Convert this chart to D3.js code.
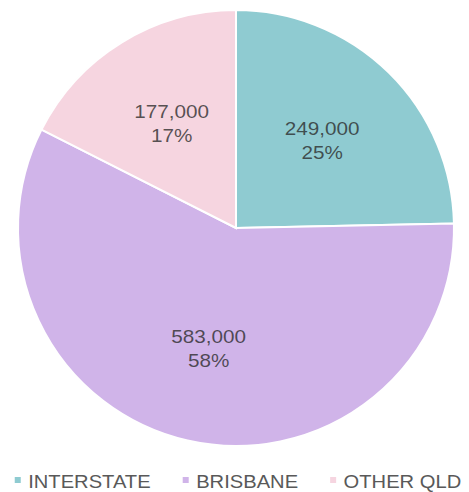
<!DOCTYPE html>
<html>
<head>
<meta charset="utf-8">
<script src="https://cdn.jsdelivr.net/npm/d3@7"></script>
<style>
  html, body { margin: 0; padding: 0; background: #fff; }
  svg { display: block; font-family: "Liberation Sans", Arial, sans-serif; }
</style>
</head>
<body>
<svg id="pie" width="469" height="492"></svg>
<script>
// pie of where people live
const categories = ['INTERSTATE', 'BRISBANE', 'OTHER QLD'];
const values = [249000, 583000, 177000];
const percentLabels = ['25%', '58%', '17%'];
const colors = ['#8fcbd1', '#d0b4e9', '#f6d5e0'];

function drawPie() {
  const svg = d3.select('#pie');
  const cx = 236, cy = 228, radius = 218;

  const data = categories.map((c, i) => ({ name: c, value: values[i], pct: percentLabels[i], color: colors[i] }));

  const pie = d3.pie().sort(null).value(d => d.value);
  const arc = d3.arc().innerRadius(0).outerRadius(radius);
  const labelArc = d3.arc().innerRadius(0).outerRadius(246);

  const g = svg.append('g').attr('transform', `translate(${cx},${cy})`);

  g.selectAll('path.slice')
    .data(pie(data))
    .join('path')
    .attr('class', 'slice')
    .attr('d', arc)
    .attr('fill', d => d.data.color)
    .attr('stroke', '#fff')
    .attr('stroke-width', 2);

  // data labels, two lines each
  const fmt = d3.format(',');
  const labels = g.selectAll('g.lbl')
    .data(pie(data))
    .join('g')
    .attr('class', 'lbl')
    .attr('transform', d => {
      const [x, y] = labelArc.centroid(d);
      return `translate(${x},${y}) scale(1.15,1)`;
    });

  labels.append('text')
    .attr('text-anchor', 'middle')
    .attr('y', -5)
    .attr('font-size', '18px')
    .attr('fill', '#2b2b2b')
    .attr('fill-opacity', 0.78)
    .text(d => fmt(d.data.value));

  labels.append('text')
    .attr('text-anchor', 'middle')
    .attr('y', 19)
    .attr('font-size', '18px')
    .attr('fill', '#2b2b2b')
    .attr('fill-opacity', 0.78)
    .text(d => d.data.pct);

  // legend along the bottom
  const legend = svg.append('g').attr('transform', 'translate(0,488)');
  const items = legend.selectAll('g.item')
    .data(data)
    .join('g')
    .attr('class', 'item');

  items.append('rect')
    .attr('width', 6)
    .attr('height', 6)
    .attr('y', -11)
    .attr('fill', d => d.color);

  items.append('text')
    .attr('x', 12)
    .attr('font-size', '18px')
    .attr('fill', '#595959')
    .attr('transform', 'scale(1.12,1)')
    .text(d => d.name);

  // spread the items out and centre them
  const gap = 32;
  const widths = [];
  items.each(function() {
    widths.push(13.5 + this.querySelector('text').getComputedTextLength() * 1.12);
  });
  const total = d3.sum(widths) + gap * (widths.length - 1);
  let x = cx + 2 - total / 2;
  items.attr('transform', (d, i) => {
    const t = `translate(${x},0)`;
    x += widths[i] + gap;
    return t;
  });
}

drawPie();
</script>
</body>
</html>
